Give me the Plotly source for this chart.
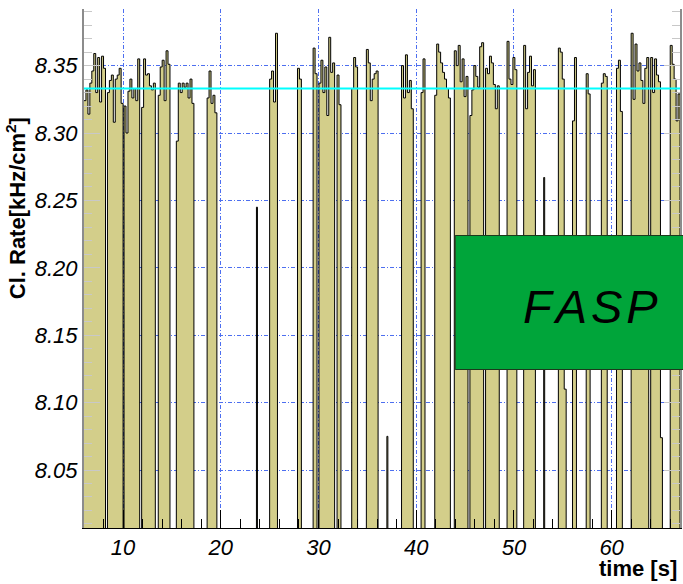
import plotly.graph_objects as go

# ---------------- data ----------------
bin_width = 0.2  # s
# start time of every beam burst (s) and the rate in each 0.2 s bin (kHz/cm^2)
burst_starts = [6.0, 8.4, 10.1, 11.9, 13.6, 15.45, 18.6, 25.0, 27.85, 29.45,
                30.05, 31.9, 33.4, 34.9, 38.5, 40.5, 41.9, 43.9, 45.5, 47.1,
                49.3, 51.0, 54.55, 56.0, 57.4, 58.95, 60.5, 62.0, 64.0, 66.0]
burst_values = [
    [8.324, 8.332, 8.314, 8.337, 8.346, 8.359, 8.330, 8.356, 8.323, 8.357, 8.348],
    [8.330, 8.339, 8.343, 8.308, 8.340, 8.343, 8.348, 8.322],
    [8.320, 8.300, 8.331, 8.340, 8.326, 8.333, 8.324, 8.355],
    [8.319, 8.355, 8.343, 8.344, 8.335, 8.332, 8.337],
    [8.328, 8.349, 8.354, 8.324, 8.361, 8.351],
    [8.294, 8.337, 8.330, 8.337, 8.334, 8.337, 8.326, 8.340, 8.322],
    [8.326, 8.346, 8.322, 8.328, 8.315],
    [8.340, 8.346, 8.323, 8.374],
    [8.348, 8.340],
    [8.363, 8.344],
    [8.337, 8.354, 8.330, 8.349, 8.313, 8.371, 8.345, 8.352],
    [8.343, 8.321],
    [8.333, 8.356, 8.349],
    [8.362, 8.352, 8.324, 8.340, 8.344, 8.346],
    [8.350, 8.326, 8.358, 8.330, 8.339, 8.318],
    [8.330, 8.355],
    [8.328, 8.366, 8.360, 8.352, 8.345, 8.340, 8.333, 8.326],
    [8.361, 8.350, 8.365, 8.338, 8.355, 8.327, 8.342],
    [8.313, 8.332, 8.350, 8.342, 8.334, 8.364, 8.367],
    [8.348, 8.344, 8.357, 8.352, 8.336, 8.318, 8.335],
    [8.368, 8.340, 8.336, 8.356, 8.347],
    [8.365, 8.318, 8.345, 8.357, 8.335, 8.347],
    [8.363, 8.360, 8.340, 8.110],
    [8.309, 8.356],
    [8.344, 8.329],
    [8.337, 8.344, 8.342],
    [8.348, 8.354, 8.316],
    [8.374, 8.325, 8.366, 8.346, 8.352, 8.339, 8.322, 8.348, 8.356],
    [8.356, 8.330, 8.355, 8.343, 8.338, 8.074],
    [8.365, 8.351, 8.340, 8.309, 8.329],
]
# isolated single-bin spikes
spike_times = [23.65, 37.0, 53.05]
spike_values = [8.245, 8.075, 8.267]
spike_width = 0.1

mean_rate = 8.333
x_range = [6.0, 67.0]
y_range = [8.007, 8.392]
label_text = "F\u200aA\u200aS\u200aP"

# ---------------- build the step histogram ----------------
segments = [(s, bin_width, v) for s, v in zip(burst_starts, burst_values)]
segments += [(t, spike_width, [v]) for t, v in zip(spike_times, spike_values)]
segments.sort(key=lambda s: s[0])

xs, ys = [], []
for start, w, vals in segments:
    for k, v in enumerate(vals):
        xs.append(start + k * w)
        ys.append(v)
    xs.append(start + len(vals) * w)
    ys.append(0.0)

W, H = 683, 584
ML, MR, MT, MB = 84, 1, 9, 56
PW, PH = W - ML - MR, H - MT - MB


def px(xp):
    return (xp - ML) / PW


def py(yp):
    return (H - MB - yp) / PH


fig = go.Figure()
fig.add_trace(go.Scatter(
    x=xs, y=ys, mode="lines", line=dict(shape="hv", color="black", width=1),
    fill="tozeroy", fillcolor="#d3ce8a", hoverinfo="skip", showlegend=False))
fig.add_trace(go.Scatter(
    x=x_range, y=[mean_rate, mean_rate], mode="lines",
    line=dict(color="#00ffff", width=2), showlegend=False))

grid_col = "#4d6ff0"
grid_dash = "4px,2px,1px,2px"
tick_font = dict(family="Liberation Sans, Arial, sans-serif", size=22,
                 color="black", style="italic")

fig.update_layout(
    width=W, height=H, margin=dict(l=ML, r=MR, t=MT, b=MB),
    paper_bgcolor="white", plot_bgcolor="white",
    xaxis=dict(range=x_range, tick0=0, dtick=10, ticks="inside", ticklen=18,
               tickcolor="black", tickwidth=1, showline=True, linecolor="black",
               linewidth=1, showgrid=True, gridcolor=grid_col, gridwidth=1,
               griddash=grid_dash, zeroline=False, tickfont=tick_font,
               minor=dict(dtick=2, tick0=0, ticks="inside", ticklen=9,
                          tickcolor="black", showgrid=False)),
    yaxis=dict(range=y_range, tick0=8.0, dtick=0.05, tickformat=".2f",
               ticks="inside", ticklen=16, tickcolor="#c8c8c8", tickwidth=1,
               showline=True, linecolor="#8c8c8c", linewidth=2, mirror="ticks",
               showgrid=True, gridcolor=grid_col, gridwidth=1,
               griddash=grid_dash, zeroline=False, tickfont=tick_font,
               ticklabelstandoff=0,
               minor=dict(dtick=0.01, tick0=8.0, ticks="inside", ticklen=8,
                          tickcolor="#c8c8c8", showgrid=False)),
)

fig.add_shape(type="rect", xref="paper", yref="paper",
              x0=px(456.5), x1=px(700), y0=py(369.5), y1=py(235.5),
              fillcolor="#00a53a", line=dict(color="#1c3a1c", width=1),
              layer="above")

fig.add_annotation(text=label_text, xref="paper", yref="paper",
                   x=px(592), y=py(306), xanchor="center", yanchor="middle",
                   showarrow=False,
                   font=dict(family="Liberation Sans, Arial, sans-serif",
                             size=47, color="black", style="italic"))

title_font = dict(family="Liberation Sans, Arial, sans-serif", size=22,
                  color="black", weight="bold")
fig.add_annotation(text="Cl. Rate[kHz/cm<sup>2</sup>]", xref="paper",
                   yref="paper", x=px(16), y=py(208), xanchor="center",
                   yanchor="middle", textangle=-90, showarrow=False,
                   font=title_font)
fig.add_annotation(text="time [s]", xref="paper", yref="paper",
                   x=px(681), y=py(568), xanchor="right", yanchor="middle",
                   showarrow=False, font=title_font)

fig.write_html("out.html")
